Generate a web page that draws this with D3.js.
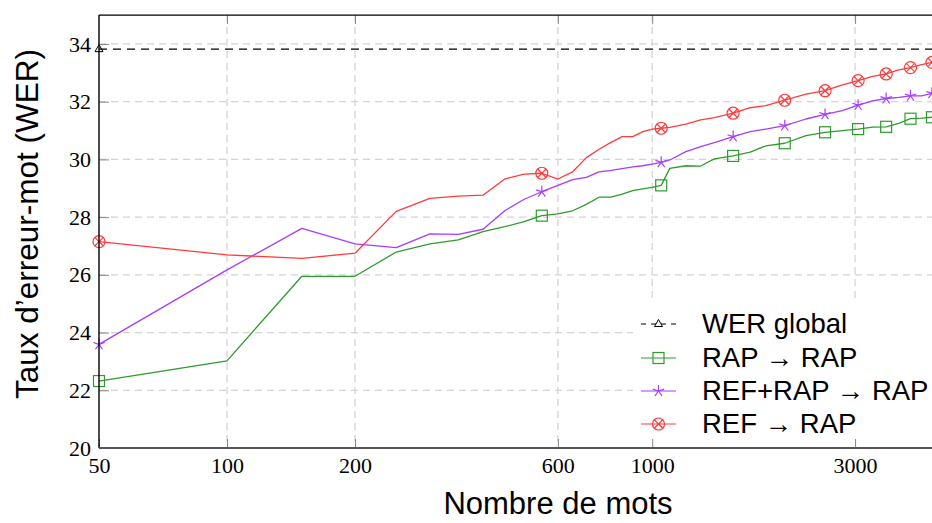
<!DOCTYPE html>
<html><head><meta charset="utf-8">
<script src="https://cdn.jsdelivr.net/npm/d3@7"></script>
<style>
html,body{margin:0;padding:0;background:#fff;}
svg{display:block;}
</style></head>
<body>
<svg id="chart" width="932" height="523"></svg>
<script>
// ---- data ----
const xValues = [50,100,150,200,250,300,350,400,450,500,550,600,650,700,750,800,850,900,950,1000,1050,1100,
  1200,1300,1400,1550,1700,1850,2050,2300,2550,2800,3050,3300,3550,3800,4050,4300,4550];
const rapRap = [22.32,23.02,25.95,25.95,26.79,27.07,27.21,27.50,27.67,27.84,28.05,28.11,28.22,28.44,28.69,28.69,28.80,28.92,28.98,29.03,29.10,29.69,
  29.78,29.77,30.02,30.12,30.25,30.47,30.56,30.82,30.94,31.00,31.05,31.12,31.13,31.25,31.41,31.43,31.46];
const refRapRap = [23.59,26.17,27.61,27.07,26.94,27.42,27.40,27.58,28.22,28.62,28.88,29.10,29.30,29.38,29.57,29.62,29.68,29.74,29.78,29.84,29.90,29.98,
  30.27,30.44,30.58,30.79,30.96,31.05,31.17,31.40,31.56,31.69,31.88,32.03,32.11,32.15,32.20,32.20,32.29];
const refRap = [27.15,26.69,26.57,26.75,28.20,28.65,28.73,28.76,29.32,29.49,29.52,29.32,29.57,30.06,30.35,30.59,30.79,30.79,30.96,31.05,31.08,31.11,
  31.22,31.37,31.45,31.60,31.79,31.86,32.05,32.26,32.38,32.58,32.73,32.88,32.96,33.10,33.18,33.28,33.36];
const werGlobalX = [50, 5000];
const werGlobalY = [33.82, 33.82];
const xTicks = [50,100,200,600,1000,3000];
const yTicks = [20,22,24,26,28,30,32,34];
const legendLabels = ["WER global","RAP \u2192 RAP","REF+RAP \u2192 RAP","REF \u2192 RAP"];
const xTitle = "Nombre de mots";
const yTitle = "Taux d\u2019erreur-mot (WER)";

// ---- drawing ----
const svg = d3.select("#chart");
svg.append("rect").attr("width",932).attr("height",523).attr("fill","#fff");
const x = d3.scaleLog().domain([50,5000]).range([99,949.4]);
const y = d3.scaleLinear().domain([20,35]).range([448,15.1]);
const L = 99, R = 949.4, T = 15.1, B = 448;

const colGreen = "#2f9a2f", colPurple = "#a53cff", colRed = "#ff3b3b";

// grid
const grid = svg.append("g");
grid.selectAll(".gy").data(yTicks.filter(t=>t>20)).join("line")
  .attr("x1",L).attr("x2",R).attr("y1",d=>y(d)).attr("y2",d=>y(d))
  .attr("stroke","#d4d4d4").attr("stroke-width",1.3).attr("stroke-dasharray","7,5");
grid.selectAll(".gx").data(xTicks.filter(t=>t>50)).join("line")
  .attr("x1",d=>x(d)).attr("x2",d=>x(d)).attr("y1",T).attr("y2",B)
  .attr("stroke","#d4d4d4").attr("stroke-width",1.3).attr("stroke-dasharray","7,5");

// clip
svg.append("clipPath").attr("id","plotclip").append("rect")
  .attr("x",L-8).attr("y",T-8).attr("width",R-L+16).attr("height",B-T+16);
const plot = svg.append("g").attr("clip-path","url(#plotclip)");

function series(xs, ys){ return xs.map((v,i)=>({x:v,y:ys[i]})); }
const line = d3.line().x(d=>x(d.x)).y(d=>y(d.y));

// WER global
plot.append("path").datum(series(werGlobalX,werGlobalY)).attr("d",line)
  .attr("fill","none").attr("stroke","#000").attr("stroke-width",1.3).attr("stroke-dasharray","8,6");

const sets = [
  {data:series(xValues,rapRap), color:colGreen, marker:"square"},
  {data:series(xValues,refRapRap), color:colPurple, marker:"star"},
  {data:series(xValues,refRap), color:colRed, marker:"otimes"}
];

function drawMarker(g, type, cx, cy, color){
  if(type==="square"){
    g.append("rect").attr("x",cx-5.5).attr("y",cy-5.5).attr("width",11).attr("height",11)
      .attr("fill","none").attr("stroke",color).attr("stroke-width",1.2);
  } else if(type==="star"){
    for(let k=0;k<5;k++){
      const a = (90 + 72*k)*Math.PI/180;
      g.append("line").attr("x1",cx).attr("y1",cy).attr("x2",cx+6*Math.cos(a)).attr("y2",cy-6*Math.sin(a))
        .attr("stroke",color).attr("stroke-width",1.2);
    }
  } else if(type==="otimes"){
    g.append("circle").attr("cx",cx).attr("cy",cy).attr("r",6).attr("fill","none").attr("stroke",color).attr("stroke-width",1.2);
    const r = 6*Math.SQRT1_2;
    g.append("line").attr("x1",cx-r).attr("y1",cy-r).attr("x2",cx+r).attr("y2",cy+r).attr("stroke",color).attr("stroke-width",1.2);
    g.append("line").attr("x1",cx-r).attr("y1",cy+r).attr("x2",cx+r).attr("y2",cy-r).attr("stroke",color).attr("stroke-width",1.2);
  } else if(type==="triangle"){
    g.append("path").attr("d",`M${cx},${cy-4.5}L${cx+4},${cy+2.5}L${cx-4},${cy+2.5}Z`)
      .attr("fill","none").attr("stroke","#000").attr("stroke-width",1);
  }
}

sets.forEach(s=>{
  plot.append("path").datum(s.data).attr("d",line).attr("fill","none")
    .attr("stroke",s.color).attr("stroke-width",1.3).attr("stroke-linejoin","round");
});
const mk = svg.append("g");
sets.forEach(s=>{
  s.data.filter(d=>(d.x-50)%500===0).forEach(d=>drawMarker(mk,s.marker,x(d.x),y(d.y),s.color));
});
drawMarker(mk,"triangle",x(werGlobalX[0]),y(werGlobalY[0]),"#000");

// legend
const lg = svg.append("g");
lg.append("rect").attr("x",633).attr("y",300).attr("width",320).attr("height",146).attr("fill","#fff");
const legendItems = [
  {color:"#000", marker:"triangle", dash:"5,5"},
  {color:colGreen, marker:"square"},
  {color:colPurple, marker:"star"},
  {color:colRed, marker:"otimes"}
];
const rowY = [324,358,391,424];
legendItems.forEach((it,i)=>{
  const ly = rowY[i];
  lg.append("line").attr("x1",641).attr("x2",676).attr("y1",ly).attr("y2",ly)
    .attr("stroke",it.color).attr("stroke-width",1.2).attr("stroke-dasharray",it.dash||null);
  drawMarker(lg,it.marker,658.5,ly,it.color);
  lg.append("text").attr("x",702).attr("y",ly+9).text(legendLabels[i])
    .attr("font-family","'Liberation Sans', Arial, sans-serif").attr("font-size",27.5).attr("fill","#000");
});

// axes
const xAxis = d3.axisBottom(x).tickValues(xTicks).tickFormat(d3.format("d")).tickSize(-9).tickPadding(9.5);
const gx = svg.append("g").attr("transform",`translate(0,${B})`).call(xAxis);
gx.select(".domain").remove();
gx.selectAll(".tick line").attr("stroke","#888");
gx.selectAll("text").attr("font-family","'Liberation Serif','Times New Roman',serif").attr("font-size",22).attr("fill","#000");

const xTop = d3.axisTop(x).tickValues(xTicks.filter(t=>t>50)).tickFormat("").tickSize(-9);
const gxt = svg.append("g").attr("transform",`translate(0,${T})`).call(xTop);
gxt.select(".domain").remove();
gxt.selectAll(".tick line").attr("stroke","#888");

const yAxis = d3.axisLeft(y).tickValues(yTicks).tickFormat(d3.format("d")).tickSize(-10).tickPadding(8);
const gy = svg.append("g").attr("transform",`translate(${L},0)`).call(yAxis);
gy.select(".domain").remove();
gy.selectAll(".tick line").attr("stroke","#888");
gy.selectAll("text").attr("font-family","'Liberation Serif','Times New Roman',serif").attr("font-size",22).attr("fill","#000");

// frame
svg.append("line").attr("x1",L).attr("x2",R).attr("y1",T).attr("y2",T).attr("stroke","#000").attr("stroke-width",1.2);
svg.append("line").attr("x1",L).attr("x2",L).attr("y1",T).attr("y2",B).attr("stroke","#000").attr("stroke-width",1.4);
svg.append("line").attr("x1",L).attr("x2",R).attr("y1",B).attr("y2",B).attr("stroke","#555").attr("stroke-width",2);

// titles
svg.append("text").attr("x",558).attr("y",514).attr("text-anchor","middle").text(xTitle)
  .attr("font-family","'Liberation Sans', Arial, sans-serif").attr("font-size",31).attr("fill","#000");
svg.append("text").attr("transform","translate(38,224) rotate(-90)").attr("text-anchor","middle").text(yTitle)
  .attr("font-family","'Liberation Sans', Arial, sans-serif").attr("font-size",31.5).attr("fill","#000");
</script>
</body></html>
